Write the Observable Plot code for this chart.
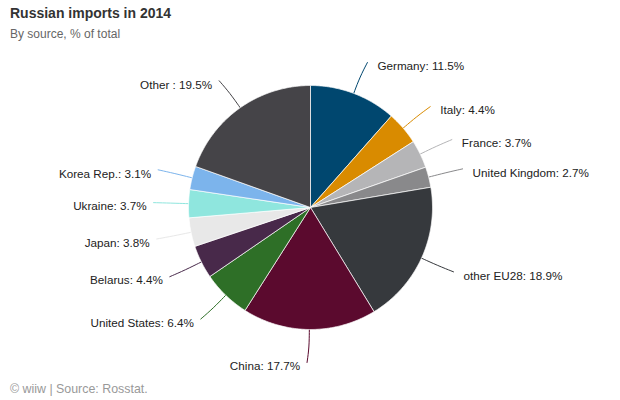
<!DOCTYPE html>
<html><head><meta charset="utf-8">
<script src="https://cdn.jsdelivr.net/npm/d3@7"></script>
<script src="https://cdn.jsdelivr.net/npm/@observablehq/plot@0.6"></script>
<style>
body{margin:0;background:#fff;font-family:"Liberation Sans",Arial,Helvetica,sans-serif;}
#wrap{position:relative;width:620px;height:400px;overflow:hidden;}
#title{position:absolute;left:10px;top:5px;font-size:14px;font-weight:bold;color:#333;line-height:17px;white-space:nowrap;}
#subtitle{position:absolute;left:10px;top:27px;font-size:12px;color:#666;line-height:15px;white-space:nowrap;}
#chart{position:absolute;left:0;top:44px;}
#caption{position:absolute;left:10px;top:382px;font-size:12.4px;color:#999;line-height:15px;white-space:nowrap;}
</style></head><body>
<div id="wrap">
<div id="title">Russian imports in 2014</div>
<div id="subtitle">By source, % of total</div>
<div id="chart"></div>
<div id="caption">© wiiw | Source: Rosstat.</div>
</div>
<script>
// Data (clockwise from 12 o'clock)
const names = ["Germany","Italy","France","United Kingdom","other EU28","China","United States","Belarus","Japan","Ukraine","Korea Rep.","Other"];
const labelNames = ["Germany","Italy","France","United Kingdom","other EU28","China","United States","Belarus","Japan","Ukraine","Korea Rep.","Other "];
const values = [11.5, 4.4, 3.7, 2.7, 18.9, 17.7, 6.4, 4.4, 3.8, 3.7, 3.1, 19.5];
const colors = ["#00476f","#d98b00","#b5b5b7","#89898b","#36393d","#5b0a2e","#2e6f27","#48294a","#e8e8e8","#8fe6de","#7cb4ec","#454448"];

const rows = names.map((n, i) => ({name: n, label: `${labelNames[i]}: ${values[i]}%`, value: values[i]}));
const arcs = d3.pie().sort(null).value(d => d.value)(rows);

const R = 122, RL = 155;
const wedgePts = [];
const connPts = [];
const labelsR = [], labelsL = [];
arcs.forEach(a => {
  const name = a.data.name;
  const n = Math.max(2, Math.ceil((a.endAngle - a.startAngle) / (Math.PI / 360)));
  wedgePts.push({name, x: 0, y: 0});
  for (let k = 0; k <= n; k++) {
    const ang = a.startAngle + (a.endAngle - a.startAngle) * k / n;
    wedgePts.push({name, x: R * Math.sin(ang), y: -R * Math.cos(ang)});
  }
  wedgePts.push({name, x: 0, y: 0});
  const mid = (a.startAngle + a.endAngle) / 2;
  const s = Math.sin(mid), c = Math.cos(mid);
  const right = s >= 0;
  const ex = RL * s + (right ? 2 : -2), ey = -RL * c;
  connPts.push({name, x: R * s, y: -R * c});
  connPts.push({name, x: (R + 18) * s, y: -(R + 18) * c});
  connPts.push({name, x: ex, y: ey});
  const lab = {name, label: a.data.label, x: right ? ex + 10 : ex - 7, y: ey + 4};
  (right ? labelsR : labelsL).push(lab);
});

const plot = Plot.plot({
  width: 620,
  height: 330,
  margin: 0,
  x: {domain: [-310, 310], range: [0, 620], axis: null},
  y: {domain: [-163, 167], range: [0, 330], axis: null},
  color: {domain: names, range: colors},
  style: {fontFamily: '"Liberation Sans", Arial, Helvetica, sans-serif', background: "#fff"},
  marks: [
    Plot.line(connPts, {x: "x", y: "y", z: "name", stroke: "name", strokeWidth: 1, curve: "basis"}),
    Plot.line(wedgePts, {x: "x", y: "y", z: "name", fill: "name", stroke: "#fff", strokeWidth: 0.7, curve: "linear"}),
    Plot.text(labelsR, {x: "x", y: "y", text: "label", textAnchor: "start", fontSize: 11.7, fill: "#222"}),
    Plot.text(labelsL, {x: "x", y: "y", text: "label", textAnchor: "end", fontSize: 11.7, fill: "#222"})
  ]
});
document.getElementById("chart").appendChild(plot);
</script>
</body></html>
